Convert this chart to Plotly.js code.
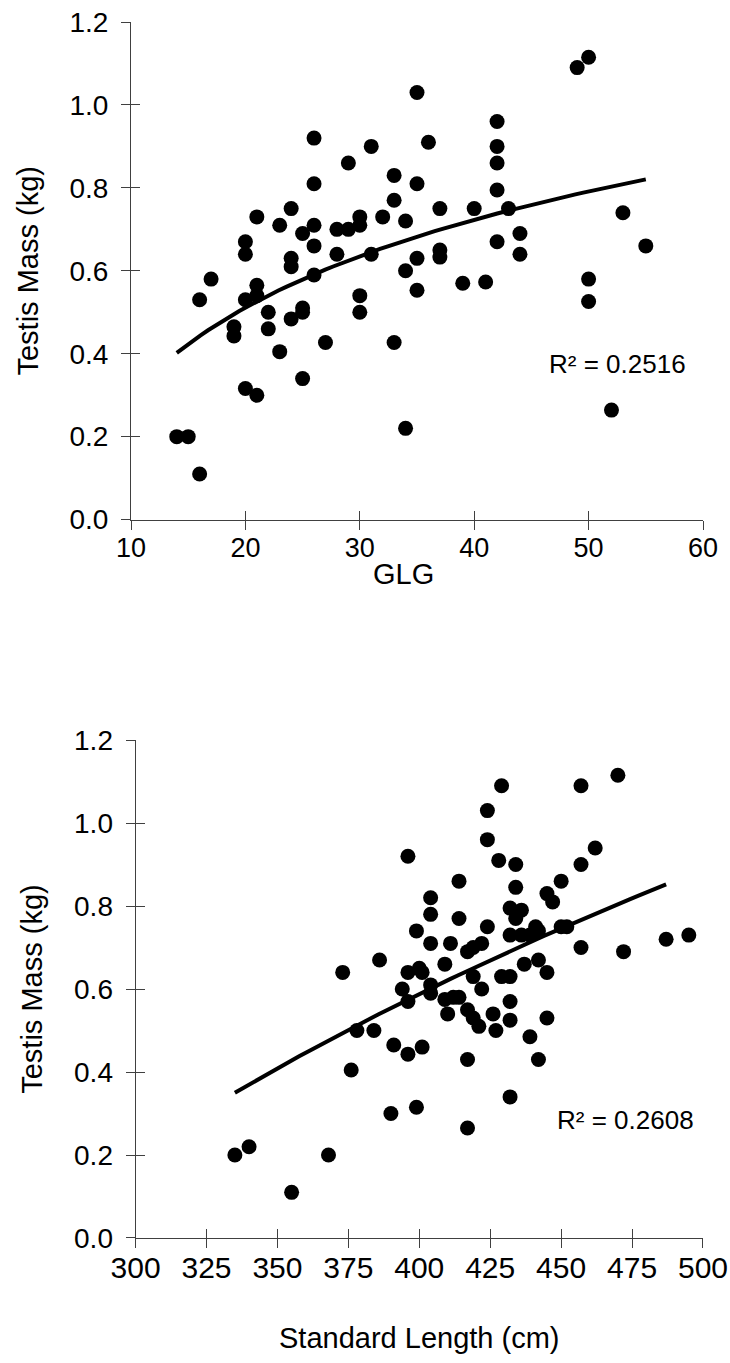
<!DOCTYPE html>
<html>
<head>
<meta charset="utf-8">
<script src="https://cdn.plot.ly/plotly-3.0.1.min.js"></script>
<style>html,body{margin:0;padding:0;background:#fff;}#chart{width:730px;height:1363px;}</style>
</head>
<body>
<div id="chart"></div>
<script>
// ---- Data: top panel (GLG vs testis mass) ----
const glg = [14,15,16,16,17,19,19,20,20,20,20,21,21,21,21,22,22,23,23,24,24,24,24,25,25,25,25,
  26,26,26,26,26,27,28,28,29,29,30,30,30,30,31,31,32,33,33,33,34,34,34,35,35,35,35,36,37,37,37,
  39,40,41,42,42,42,42,42,43,44,44,49,50,50,50,52,53,55];
const glgMass = [0.20,0.20,0.11,0.53,0.58,0.465,0.443,0.67,0.64,0.53,0.316,0.73,0.565,0.54,0.30,0.50,0.46,0.71,0.405,0.75,0.63,0.61,0.484,0.69,0.51,0.50,0.34,
  0.92,0.81,0.71,0.66,0.59,0.427,0.70,0.64,0.86,0.70,0.73,0.71,0.54,0.50,0.90,0.64,0.73,0.83,0.77,0.427,0.72,0.60,0.22,1.03,0.81,0.63,0.553,0.91,0.75,0.65,0.633,
  0.57,0.75,0.573,0.96,0.90,0.86,0.795,0.67,0.75,0.69,0.64,1.09,1.115,0.58,0.526,0.264,0.74,0.66];

// ---- Data: bottom panel (standard length vs testis mass) ----
const stdLength = [335,340,355,368,373,376,378,384,386,390,391,394,396,396,396,396,399,399,400,401,401,
  404,404,404,404,404,409,409,410,411,412,414,414,414,417,417,417,417,419,419,419,421,422,422,
  424,424,424,426,427,428,429,429,432,432,432,432,432,432,434,434,434,436,436,437,439,439,
  441,442,442,442,445,445,445,447,450,450,452,457,457,457,462,470,472,487,495];
const stdMass = [0.20,0.22,0.11,0.20,0.64,0.405,0.50,0.50,0.67,0.30,0.465,0.60,0.92,0.64,0.57,0.443,0.74,0.315,0.65,0.64,0.46,
  0.82,0.78,0.71,0.61,0.59,0.66,0.575,0.54,0.71,0.58,0.86,0.77,0.58,0.69,0.55,0.43,0.265,0.70,0.63,0.53,0.51,0.71,0.60,
  1.03,0.96,0.75,0.54,0.50,0.91,1.09,0.63,0.795,0.73,0.63,0.57,0.525,0.34,0.90,0.845,0.77,0.79,0.73,0.66,0.73,0.485,
  0.75,0.74,0.67,0.43,0.83,0.64,0.53,0.81,0.86,0.75,0.75,1.09,0.90,0.70,0.94,1.115,0.69,0.72,0.73];

// ---- Labels ----
const yTickVals = [0,0.2,0.4,0.6,0.8,1.0,1.2];
const yTickText = ['0.0','0.2','0.4','0.6','0.8','1.0','1.2'];
const glgTicks = [10,20,30,40,50,60];
const lenTicks = [300,325,350,375,400,425,450,475,500];
const yTitle = 'Testis Mass (kg)';
const glgTitle = 'GLG';
const lenTitle = 'Standard Length (cm)';
const r2Top = 'R² = 0.2516';
const r2Bottom = 'R² = 0.2608';

// ---- Logarithmic trendlines (y = a ln x + b), as drawn in the figure ----
const glgTrendSpan = [14,55];
const lenTrendSpan = [335,487];
const lenTrendCoef = {a:1.342, b:-7.4525};

function logFit(xs, ys){
  const n = xs.length; let sx=0, sy=0, sxx=0, sxy=0;
  for(let i=0;i<n;i++){ const lx=Math.log(xs[i]); sx+=lx; sy+=ys[i]; sxx+=lx*lx; sxy+=lx*ys[i]; }
  const a = (n*sxy - sx*sy)/(n*sxx - sx*sx); const b = (sy - a*sx)/n;
  return {a,b};
}
function trendCurve(f, span){
  const tx=[], ty=[]; const steps=60;
  for(let i=0;i<=steps;i++){ const x = span[0] + (span[1]-span[0])*i/steps; tx.push(x); ty.push(f.a*Math.log(x)+f.b); }
  return {tx, ty};
}
const tTop = trendCurve(logFit(glg, glgMass), glgTrendSpan);
const tBot = trendCurve(lenTrendCoef, lenTrendSpan);

const FONT = 'Liberation Sans, Arial, Helvetica, sans-serif';
const AX = '#404040';
const marker = {color:'#000', size:15, symbol:'circle', line:{width:0}};

const traces = [
  {x:glg, y:glgMass, type:'scatter', mode:'markers', marker, xaxis:'x', yaxis:'y', cliponaxis:false},
  {x:tTop.tx, y:tTop.ty, type:'scatter', mode:'lines', line:{color:'#000', width:4}, xaxis:'x', yaxis:'y'},
  {x:stdLength, y:stdMass, type:'scatter', mode:'markers', marker, xaxis:'x2', yaxis:'y2', cliponaxis:false},
  {x:tBot.tx, y:tBot.ty, type:'scatter', mode:'lines', line:{color:'#000', width:4}, xaxis:'x2', yaxis:'y2'},
  {x:[], y:[], type:'scatter', mode:'markers', xaxis:'x3', yaxis:'y3', showlegend:false},
  {x:[], y:[], type:'scatter', mode:'markers', xaxis:'x4', yaxis:'y4', showlegend:false}
];

// main axes: line, labels and the inner half of each cross tick
function baseAxis(extra){
  return Object.assign({
    showgrid:false, zeroline:false, showline:true, linecolor:AX, linewidth:1,
    ticks:'inside', ticklen:9, tickwidth:1, tickcolor:AX,
    tickfont:{family:FONT, size:28, color:'#000'}, fixedrange:true
  }, extra);
}
// overlay axes: the outer half of each cross tick
function overlayAxis(extra){
  return Object.assign({
    showgrid:false, zeroline:false, showline:false, ticks:'outside', ticklen:9, tickwidth:1, tickcolor:AX,
    showticklabels:false, fixedrange:true
  }, extra);
}
const titleFont = {family:FONT, size:29, color:'#000'};

const layout = {
  width:730, height:1363, showlegend:false,
  paper_bgcolor:'#fff', plot_bgcolor:'#fff',
  margin:{l:131, r:27, t:22, b:125},
  font:{family:FONT, color:'#000'},
  xaxis: baseAxis({domain:[0,1], anchor:'y', range:[10,60], tickmode:'array', tickvals:glgTicks,
    tickfont:{family:FONT, size:27, color:'#000'}, ticklabelstandoff:4}),
  yaxis: baseAxis({domain:[0.5908,1], anchor:'x', range:[0,1.2], tickmode:'array', tickvals:yTickVals, ticktext:yTickText,
    ticklabelstandoff:16, title:{text:yTitle, font:titleFont, standoff:22}}),
  xaxis2: baseAxis({domain:[0.008,1], anchor:'y2', range:[300,500], tickmode:'array', tickvals:lenTicks,
    tickfont:{family:FONT, size:30, color:'#000'}, ticklabelstandoff:3,
    title:{text:lenTitle, font:titleFont, standoff:44}}),
  yaxis2: baseAxis({domain:[0,0.4095], anchor:'x2', range:[0,1.2], tickmode:'array', tickvals:yTickVals, ticktext:yTickText,
    ticklabelstandoff:16, title:{text:yTitle, font:titleFont, standoff:22}}),
  xaxis3: overlayAxis({overlaying:'x', anchor:'y3', range:[10,60], tickmode:'array', tickvals:glgTicks}),
  yaxis3: overlayAxis({overlaying:'y', anchor:'x3', range:[0,1.2], tickmode:'array', tickvals:yTickVals}),
  xaxis4: overlayAxis({overlaying:'x2', anchor:'y4', range:[300,500], tickmode:'array', tickvals:lenTicks}),
  yaxis4: overlayAxis({overlaying:'y2', anchor:'x4', range:[0,1.2], tickmode:'array', tickvals:yTickVals}),
  annotations:[
    {text:glgTitle, xref:'x domain', yref:'y domain', x:0.477, y:-0.11, xanchor:'center', yanchor:'middle', showarrow:false,
     font:titleFont},
    {text:r2Top, xref:'x domain', yref:'y domain', x:0.851, y:0.312, xanchor:'center', yanchor:'middle', showarrow:false,
     font:{family:FONT, size:26, color:'#000'}},
    {text:r2Bottom, xref:'x2 domain', yref:'y2 domain', x:0.863, y:0.237, xanchor:'center', yanchor:'middle', showarrow:false,
     font:{family:FONT, size:26, color:'#000'}}
  ]
};

Plotly.newPlot('chart', traces, layout, {displayModeBar:false, staticPlot:true});
</script>
</body>
</html>
